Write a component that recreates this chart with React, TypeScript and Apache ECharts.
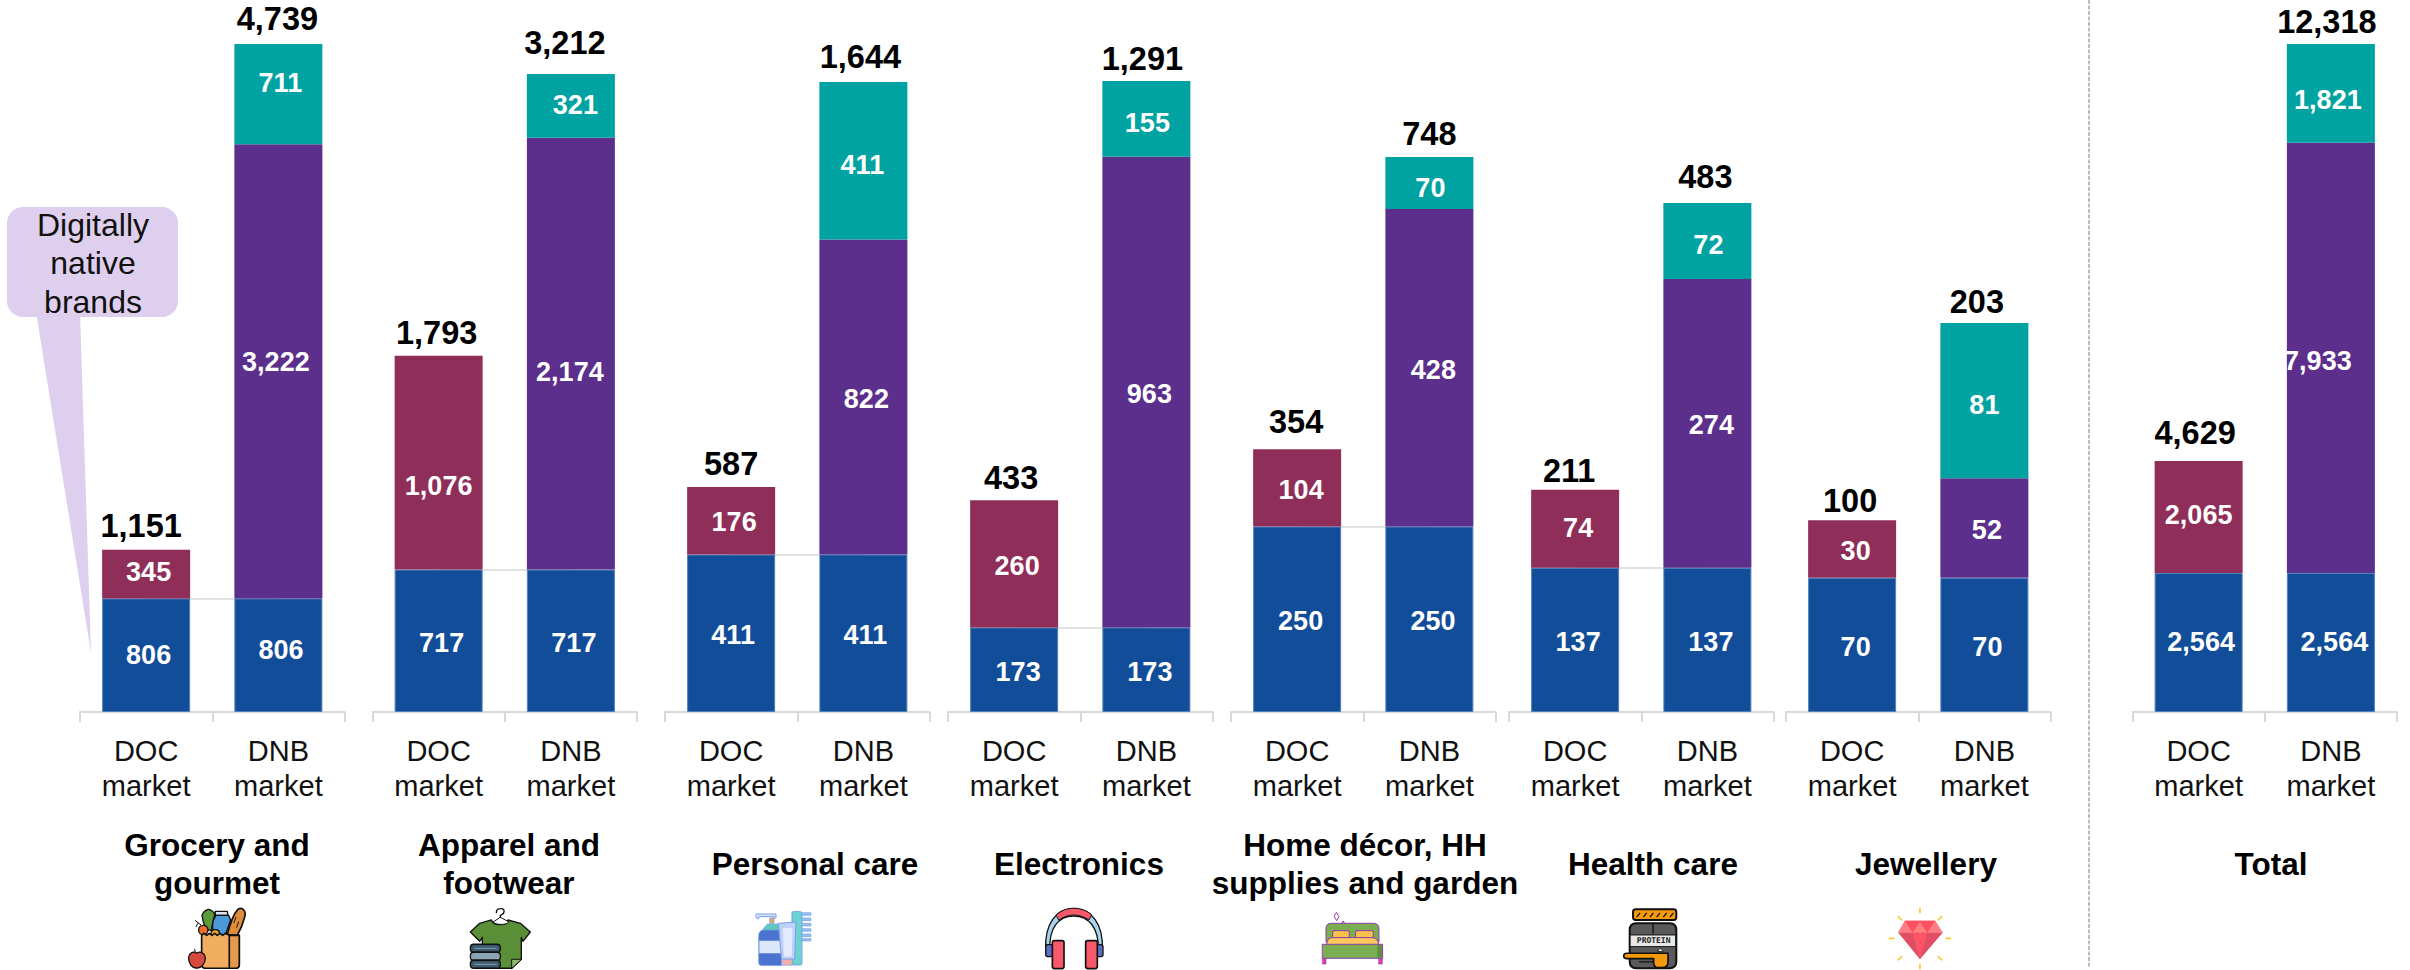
import React, { useEffect, useRef } from "react";
import * as echarts from "echarts";

// ---- Values ----
const categories = [
  "Grocery and\ngourmet",
  "Apparel and\nfootwear",
  "Personal care",
  "Electronics",
  "Home décor, HH\nsupplies and garden",
  "Health care",
  "Jewellery",
  "Total",
];
const marketLabels = ["DOC\nmarket", "DNB\nmarket"];
const sharedBase = [806, 717, 411, 173, 250, 137, 70, 2564];
const docOther = [345, 1076, 176, 260, 104, 74, 30, 2065];
const dnbMiddle = [3222, 2174, 822, 963, 428, 274, 52, 7933];
const dnbTop = [711, 321, 411, 155, 70, 72, 81, 1821];
const docTotals = [1151, 1793, 587, 433, 354, 211, 100, 4629];
const dnbTotals = [4739, 3212, 1644, 1291, 748, 483, 203, 12318];

// ---- Layout ----
const BASELINE = 712;
const PANEL_WIDTH = 264.5;
const panelLeft = [80, 372.5, 665, 948, 1231, 1509, 1786, 2132.5];
const panelTop = [44, 74, 82, 81, 157, 203, 323, 44];
const titleCentre = [217, 509, 815, 1079, 1365, 1653, 1926, 2271];
const CONNECTED_PANELS = 6;

// Per-label [dx, dy] shifts from the default anchor of each segment.
const baseDocShift = [[2.5, 0], [3, 2], [2, 2], [4, 2], [3.5, 2], [3, 2], [3.5, 2], [2.5, 0]];
const baseDnbShift = [[2.6, -5], [3, 2], [2, 2], [3.5, 2], [3.6, 2], [3.5, 2], [3, 2], [3.5, 0]];
const otherShift = [[2.5, -2], [0, 23], [3, 1], [3, 2], [4, 2], [3, -1], [3.5, 2], [0, -2]];
const middleShift = [[-2.5, -9], [-1, 18], [3, 2], [3, 2], [4, 2], [4, 2], [2.5, 2], [-13, 3]];
const topShift = [[2, -11], [4.5, -1], [-1, 4], [1, 4], [1, 5], [1, 4], [0, 4], [-3, 7]];
const docTotalShift = [[-5, 1], [-2, 2], [0, 2], [-3, 3], [-1, -2], [-6, 6], [-2, 5.5], [-3.5, -3]];
const dnbTotalShift = [[-1, 0], [-6, -6], [-3, 0], [-4, 3], [0, 2], [-2, -1], [-7.5, 4], [-4, 3]];

const FONT = "Liberation Sans";
const BLUE = "#124D9A";
const CRIMSON = "#902E5A";
const PURPLE = "#5D2F8D";
const TEAL = "#00A3A1";
const AXIS_GREY = "#D9D9D9";
const CALLOUT = "#DFCFEE";

const formatValue = (v: number) => v.toLocaleString("en-US");

// ---- Pictograms: drawn on a 3x canvas and scaled down by their group ----
type Part = [string, string, string?, number?];

const rr = (x: number, y: number, w: number, h: number, r: number) =>
  `M${x + r} ${y}L${x + w - r} ${y}Q${x + w} ${y} ${x + w} ${y + r}L${x + w} ${y + h - r}Q${x + w} ${y + h} ${x + w - r} ${y + h}L${x + r} ${y + h}Q${x} ${y + h} ${x} ${y + h - r}L${x} ${y + r}Q${x} ${y} ${x + r} ${y}Z`;
const disc = (cx: number, cy: number, r: number) =>
  `M${cx - r} ${cy}C${cx - r} ${cy - r * 1.33} ${cx + r} ${cy - r * 1.33} ${cx + r} ${cy}C${cx + r} ${cy + r * 1.33} ${cx - r} ${cy + r * 1.33} ${cx - r} ${cy}Z`;

const K = "#111111";

const groceryParts: Part[] = [
  ["M142 104C150 72 160 42 174 28C188 20 200 34 194 52C188 76 178 96 172 106Z", "#E08C3A", K, 5],
  ["M168 52L162 68M176 66L170 82", "none", K, 3],
  ["M106 34L142 34L144 46L106 46Z", "#D9E6F0", K, 4],
  ["M98 106L98 64L108 46L146 46L152 60L136 106Z", "#4C98D8", K, 4],
  ["M66 46C68 36 84 24 92 30C102 36 108 42 102 52L98 68L94 92L78 88L70 66Z", "#5A9A3A", K, 4],
  ["M46 62L62 74M54 70L48 80", "none", K, 3],
  [disc(70, 90, 14), "#EF6C2A", K, 4],
  [disc(106, 102, 13), "#F4A02C", K, 4],
  ["M65 106L72 100L80 106L88 100L96 106L104 100L112 106L120 100L128 106L136 100L148 106L178 106L178 194Q178 205 168 205L76 205Q65 205 65 194Z", "#F0AD5F", K, 5],
  ["M148 106L178 106L178 194Q178 205 168 205L148 205Z", "#E39A4B", K, 5],
  ["M50 160C38 152 26 160 26 176C26 192 38 206 50 204C62 206 76 192 76 176C76 160 62 152 50 160Z", "#D8493F", K, 4],
  ["M46 158L44 148", "none", K, 3],
];

const shirtParts: Part[] = [
  ["M935 60L900 70L872 96L900 124L908 112L908 205L996 205L1025 178L1025 112L1030 124L1052 96L1022 70L985 60C980 78 940 78 935 60Z", "#5B8F37", K, 4],
  ["M996 205L996 178L1025 178Z", "#8FB86A", K, 3],
  ["M940 66L962 52L988 66C980 76 948 76 940 66Z", "#FFFFFF", K, 3],
  ["M962 52L962 46C978 40 976 24 962 26C954 26 950 32 950 38", "none", K, 4],
  [rr(872, 133, 90, 24, 10), "#3B5A6E", K, 4],
  [rr(872, 157, 90, 24, 10), "#8AA6B5", K, 4],
  [rr(872, 181, 90, 24, 10), "#3B5A6E", K, 4],
  ["M885 145L950 145M885 193L950 193", "none", "#8AA6B5", 3],
];

const careParts: Part[] = [
  [rr(126, 35, 30, 160, 4), "#6AD5D0", "#7A9DEB", 3],
  ["M156 38L183 38L183 46L156 46ZM156 54L183 54L183 62L156 62ZM156 70L183 70L183 78L156 78ZM156 86L183 86L183 94L156 94ZM156 102L183 102L183 110L156 110ZM156 116L183 116L183 123L156 123Z", "#8FC4EE", "#7A9DEB", 2],
  ["M18 52L18 42L78 42L78 54L72 54L72 50L26 50L26 56Z", "#DCE6FB", "#7A9DEB", 3],
  ["M60 54L72 54L72 70L60 70Z", "#E8A45A", "#7A9DEB", 2],
  ["M40 86L52 72L88 72L88 92L40 92Z", "#5EC9BE", "#7A9DEB", 2],
  ["M26 108Q26 90 42 90L92 90L95 197L34 197Q26 197 26 188Z", "#4A74D0", "#7A9DEB", 2],
  ["M28 122L92 122L93 160L28 160Z", "#DCE6FB"],
  ["M86 70L138 66L134 178L96 178Z", "#BFD0F8", "#7A9DEB", 3],
  ["M98 84L128 84L125 170L102 170Z", "#E3EBFF"],
  ["M96 178L128 178L126 196L98 196Z", "#F3AFAB", "#7A9DEB", 2],
];

const phonesParts: Part[] = [
  ["M888 150C884 70 920 26 972 26C1024 26 1062 70 1058 150L1046 150C1048 84 1018 48 972 48C926 48 898 84 900 150Z", "#A9D4EE", K, 4],
  ["M920 44C950 18 994 18 1026 44L1018 60C990 40 954 40 928 60Z", "#F8596A", K, 3],
  [rr(888, 134, 22, 36, 6), "#5A6FC8", K, 4],
  [rr(1040, 134, 20, 36, 6), "#5A6FC8", K, 4],
  [rr(908, 122, 35, 84, 6), "#F8596A", K, 5],
  [rr(1008, 122, 35, 84, 6), "#F8596A", K, 5],
];

const BED_LINE = "#8E3BA8";
const bedParts: Part[] = [
  ["M50 38L57 50L50 62L43 50Z", "#FFFFFF", BED_LINE, 3],
  ["M70 64L75 72L70 80L65 72Z", "#FFFFFF", BED_LINE, 3],
  ["M18 125L18 86Q18 70 34 70L160 70Q177 70 177 86L177 125Z", "#7BAE52", BED_LINE, 3],
  [rr(38, 92, 50, 22, 4), "#F9C04A", BED_LINE, 3],
  [rr(107, 92, 53, 22, 4), "#F9C04A", BED_LINE, 3],
  ["M20 135Q20 113 38 113L156 113Q176 113 176 135Z", "#FFC85C", BED_LINE, 3],
  ["M8 133L188 133L188 175L8 175Z", "#7BAE52", BED_LINE, 3],
  ["M172 135L186 135L186 173L172 173Z", "#5F8F3F"],
  ["M8 176L18 176L18 192L8 192ZM177 176L187 176L187 192L177 192Z", "#E33CB5", BED_LINE, 2],
];

const jarParts: Part[] = [
  [rr(930, 70, 140, 135, 20), "#5A5A5A", K, 6],
  ["M1000 70L1000 100M960 186L1000 186", "none", K, 4],
  ["M932 105L1068 105L1068 140L932 140Z", "#E8E8E8", K, 3],
  [rr(940, 28, 130, 32, 8), "#F59A0B", K, 6],
  ["M952 50L960 40M972 50L980 40M992 50L1000 40M1012 50L1020 40M1032 50L1040 40M1052 50L1060 40", "none", K, 4],
  ["M1010 160L1045 160L1045 186Q1045 203 1028 203L1016 203Q1004 203 1002 190L1002 176L922 176Q912 176 912 168Q912 160 922 160Z", "#F59A0B", K, 5],
  ["M1014 154L1022 144L1030 154Z", "#E8E8E8", K, 2],
];

const gemParts: Part[] = [
  ["M120 25L120 38M55 50L65 60M185 50L175 60M28 115L42 115M198 115L212 115M55 180L65 170M185 180L175 170M120 193L120 207", "none", "#FFC927", 5],
  ["M75 62L165 62L188 98L120 178L55 98Z", "#E04E66"],
  ["M75 62L165 62L188 98L55 98Z", "#FF4F62"],
  ["M75 62L55 98L98 98ZM165 62L188 98L142 98ZM120 66L98 98L142 98Z", "#FF7F84"],
  ["M98 98L142 98L120 178Z", "#FF5468"],
];

const pictograms: { x: number; y: number; parts: Part[]; extra?: any[] }[] = [
  { x: 180, y: 900, parts: groceryParts },
  { x: 180, y: 900, parts: shirtParts },
  { x: 750, y: 900, parts: careParts },
  { x: 750, y: 900, parts: phonesParts },
  { x: 1320, y: 900, parts: bedParts },
  {
    x: 1320,
    y: 900,
    parts: jarParts,
    extra: [
      {
        type: "text",
        z: 41,
        style: {
          text: "PROTEIN",
          x: 1002,
          y: 123,
          fontFamily: "DejaVu Sans Mono",
          fontWeight: "bold",
          fontSize: 24,
          align: "center",
          verticalAlign: "middle",
          fill: "#222222",
        },
      },
    ],
  },
  { x: 1880, y: 900, parts: gemParts },
];

const pictogramGraphics = pictograms.map((icon, i) => ({
  type: "group",
  x: icon.x,
  y: icon.y,
  scaleX: 1 / 3,
  scaleY: 1 / 3,
  silent: true,
  children: [
    ...icon.parts.map(([d, fill, stroke, lineWidth], j) => {
      const name = `pictogram-${i}-${j}`;
      echarts.graphic.registerShape(name, echarts.graphic.extendPath(d, {}));
      return {
        type: name,
        z: 40,
        style: {
          fill,
          stroke: stroke ?? "none",
          lineWidth: lineWidth ?? 0,
          lineJoin: "round",
          lineCap: "round",
        },
      };
    }),
    ...(icon.extra ?? []),
  ],
}));

function buildOption() {
  const grid = categories.map((_, i) => ({
    left: panelLeft[i],
    width: PANEL_WIDTH,
    top: panelTop[i],
    height: BASELINE - panelTop[i],
  }));

  const xAxis = categories.map((_, i) => ({
    type: "category",
    gridIndex: i,
    data: marketLabels,
    axisLine: { show: true, lineStyle: { color: AXIS_GREY, width: 2 } },
    axisTick: { show: true, length: 10, lineStyle: { color: AXIS_GREY, width: 2 } },
    axisLabel: {
      interval: 0,
      margin: 21,
      fontFamily: FONT,
      fontSize: 29,
      lineHeight: 35,
      color: "#111111",
    },
  }));

  const yAxis = categories.map((_, i) => ({
    type: "value",
    gridIndex: i,
    min: 0,
    max: dnbTotals[i],
    show: false,
    splitLine: { show: false },
  }));

  const segmentLabel = {
    show: true,
    position: "inside",
    fontFamily: FONT,
    fontWeight: "bold",
    fontSize: 27,
    color: "#FFFFFF",
    formatter: (p: any) => formatValue(p.value),
  };

  const item = (value: number, offset: number[]) => ({ value, label: { offset } });

  const series: any[] = [];
  categories.forEach((_, i) => {
    const common = {
      type: "bar",
      xAxisIndex: i,
      yAxisIndex: i,
      stack: `panel-${i}`,
      barWidth: 88,
      z: 2,
      label: segmentLabel,
    };
    series.push({
      ...common,
      name: `Base ${i}`,
      itemStyle: { color: BLUE, borderColor: "#4F7FBB", borderWidth: 1 },
      data: [item(sharedBase[i], baseDocShift[i]), item(sharedBase[i], baseDnbShift[i])],
      markLine:
        i < CONNECTED_PANELS
          ? {
              silent: true,
              z: 1,
              symbol: ["none", "none"],
              label: { show: false },
              lineStyle: { color: AXIS_GREY, width: 1.5, type: "solid" },
              data: [[{ xAxis: 0, yAxis: sharedBase[i] }, { xAxis: 1, yAxis: sharedBase[i] }]],
            }
          : undefined,
    });
    series.push({
      ...common,
      name: `DOC other ${i}`,
      itemStyle: { color: CRIMSON },
      data: [item(docOther[i], otherShift[i]), null],
    });
    series.push({
      ...common,
      name: `DNB middle ${i}`,
      itemStyle: { color: PURPLE },
      data: [null, item(dnbMiddle[i], middleShift[i])],
    });
    series.push({
      ...common,
      name: `DNB top ${i}`,
      itemStyle: { color: TEAL },
      data: [null, item(dnbTop[i], topShift[i])],
    });
    // Totals sit on invisible points so their labels follow the bar tops.
    series.push({
      type: "scatter",
      name: `Totals ${i}`,
      xAxisIndex: i,
      yAxisIndex: i,
      clip: false,
      symbolSize: 1,
      z: 5,
      itemStyle: { color: "rgba(0,0,0,0)", opacity: 1 },
      label: {
        show: true,
        position: "top",
        distance: 8,
        fontFamily: FONT,
        fontWeight: "bold",
        fontSize: 32.5,
        color: "#000000",
        formatter: (p: any) => formatValue(p.value[1]),
      },
      data: [
        { value: [0, docTotals[i]], label: { offset: docTotalShift[i] } },
        { value: [1, dnbTotals[i]], label: { offset: dnbTotalShift[i] } },
      ],
    });
  });

  const titles = categories.map((text, i) => ({
    type: "text",
    z: 30,
    silent: true,
    style: {
      text,
      x: titleCentre[i],
      y: 864,
      fontFamily: FONT,
      fontWeight: "bold",
      fontSize: 31.5,
      lineHeight: 38,
      align: "center",
      verticalAlign: "middle",
      fill: "#000000",
    },
  }));

  const callout = [
    {
      type: "polygon",
      z: 1,
      silent: true,
      shape: { points: [[36, 312], [80, 312], [91, 653]] },
      style: { fill: CALLOUT },
    },
    {
      type: "rect",
      z: 1,
      silent: true,
      shape: { x: 7, y: 207, width: 171, height: 110, r: 16 },
      style: { fill: CALLOUT },
    },
    {
      type: "text",
      z: 30,
      silent: true,
      style: {
        text: "Digitally\nnative\nbrands",
        x: 93,
        y: 263,
        fontFamily: FONT,
        fontSize: 32,
        lineHeight: 38.5,
        align: "center",
        verticalAlign: "middle",
        fill: "#111111",
      },
    },
  ];

  const divider = {
    type: "line",
    z: 1,
    silent: true,
    shape: { x1: 2089, y1: 0, x2: 2089, y2: 967 },
    style: { stroke: "#BDBDBD", lineWidth: 2, lineDash: [4, 1.5] },
  };

  return {
    animation: false,
    backgroundColor: "#FFFFFF",
    grid,
    xAxis,
    yAxis,
    series,
    graphic: { elements: [divider, ...callout, ...titles, ...pictogramGraphics] },
  };
}

export default function App() {
  const ref = useRef<HTMLDivElement>(null);

  useEffect(() => {
    const chart = echarts.init(ref.current!, undefined, { renderer: "svg" });
    chart.setOption(buildOption() as any);
    return () => chart.dispose();
  }, []);

  return (
    <div
      ref={ref}
      style={{ position: "fixed", left: 0, top: 0, width: 2410, height: 970 }}
    />
  );
}
